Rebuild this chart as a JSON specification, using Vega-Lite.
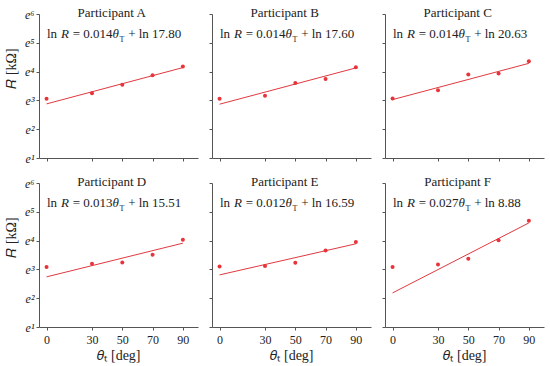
{
  "$schema": "https://vega.github.io/schema/vega-lite/v6.json",
  "padding": {"left": 4, "top": 6, "right": 5, "bottom": 4},
  "background": "white",
  "datasets": {
    "points": [
      {"participant": "A", "theta": 0, "lnR": 3.06}, {"participant": "A", "theta": 30, "lnR": 3.25}, {"participant": "A", "theta": 50, "lnR": 3.545}, {"participant": "A", "theta": 70, "lnR": 3.87}, {"participant": "A", "theta": 90, "lnR": 4.18},
      {"participant": "B", "theta": 0, "lnR": 3.06}, {"participant": "B", "theta": 30, "lnR": 3.16}, {"participant": "B", "theta": 50, "lnR": 3.6}, {"participant": "B", "theta": 70, "lnR": 3.74}, {"participant": "B", "theta": 90, "lnR": 4.15},
      {"participant": "C", "theta": 0, "lnR": 3.07}, {"participant": "C", "theta": 30, "lnR": 3.35}, {"participant": "C", "theta": 50, "lnR": 3.9}, {"participant": "C", "theta": 70, "lnR": 3.93}, {"participant": "C", "theta": 90, "lnR": 4.36},
      {"participant": "D", "theta": 0, "lnR": 3.08}, {"participant": "D", "theta": 30, "lnR": 3.2}, {"participant": "D", "theta": 50, "lnR": 3.24}, {"participant": "D", "theta": 70, "lnR": 3.51}, {"participant": "D", "theta": 90, "lnR": 4.03},
      {"participant": "E", "theta": 0, "lnR": 3.1}, {"participant": "E", "theta": 30, "lnR": 3.12}, {"participant": "E", "theta": 50, "lnR": 3.23}, {"participant": "E", "theta": 70, "lnR": 3.66}, {"participant": "E", "theta": 90, "lnR": 3.95},
      {"participant": "F", "theta": 0, "lnR": 3.08}, {"participant": "F", "theta": 30, "lnR": 3.17}, {"participant": "F", "theta": 50, "lnR": 3.37}, {"participant": "F", "theta": 70, "lnR": 4.01}, {"participant": "F", "theta": 90, "lnR": 4.69}
    ],
    "fit": [
      {"participant": "A", "theta": 0, "lnR": 2.879}, {"participant": "A", "theta": 90, "lnR": 4.139},
      {"participant": "B", "theta": 0, "lnR": 2.868}, {"participant": "B", "theta": 90, "lnR": 4.128},
      {"participant": "C", "theta": 0, "lnR": 3.027}, {"participant": "C", "theta": 90, "lnR": 4.287},
      {"participant": "D", "theta": 0, "lnR": 2.741}, {"participant": "D", "theta": 90, "lnR": 3.911},
      {"participant": "E", "theta": 0, "lnR": 2.809}, {"participant": "E", "theta": 90, "lnR": 3.889},
      {"participant": "F", "theta": 0, "lnR": 2.184}, {"participant": "F", "theta": 90, "lnR": 4.614}
    ],
    "eqs": [
      {"participant": "A", "title": "Participant A", "slope": "= 0.014", "tail": "+ ln 17.80"},
      {"participant": "B", "title": "Participant B", "slope": "= 0.014", "tail": "+ ln 17.60"},
      {"participant": "C", "title": "Participant C", "slope": "= 0.014", "tail": "+ ln 20.63"},
      {"participant": "D", "title": "Participant D", "slope": "= 0.013", "tail": "+ ln 15.51"},
      {"participant": "E", "title": "Participant E", "slope": "= 0.012", "tail": "+ ln 16.59"},
      {"participant": "F", "title": "Participant F", "slope": "= 0.027", "tail": "+ ln 8.88"}
    ]
  },
  "columns": 3,
  "spacing": {"row": 25, "column": 14},
  "bounds": "flush",
  "concat": [
    {
      "width": 159, "height": 144,
      "layer": [
        {"data": {"name": "fit"}, "transform": [{"filter": "datum.participant == 'A'"}], "mark": {"type": "line", "color": "#e0393f", "strokeWidth": 1},
         "encoding": {"x": {"field": "theta", "type": "quantitative", "scale": {"domain": [-5, 100], "nice": false}, "axis": {"values": [0, 30, 50, 70, 90], "labels": false, "title": null}}, "y": {"field": "lnR", "type": "quantitative", "scale": {"domain": [1, 6], "nice": false}, "axis": {"values": [1, 2, 3, 4, 5, 6], "labelExpr": "'e' + ['⁰','¹','²','³','⁴','⁵','⁶'][datum.value]", "labelFontStyle": "italic", "labelOverlap": false, "title": "𝑅 [kΩ]", "titlePadding": 6, "titleY": 54}}}},
        {"data": {"name": "points"}, "transform": [{"filter": "datum.participant == 'A'"}], "mark": {"type": "circle", "color": "#e8333b", "size": 16, "opacity": 1},
         "encoding": {"x": {"field": "theta", "type": "quantitative", "scale": {"domain": [-5, 100], "nice": false}, "axis": {"values": [0, 30, 50, 70, 90], "labels": false, "title": null}}, "y": {"field": "lnR", "type": "quantitative", "scale": {"domain": [1, 6], "nice": false}, "axis": {"values": [1, 2, 3, 4, 5, 6], "labelExpr": "'e' + ['⁰','¹','²','³','⁴','⁵','⁶'][datum.value]", "labelFontStyle": "italic", "labelOverlap": false, "title": "𝑅 [kΩ]", "titlePadding": 6, "titleY": 54}}}},
        {"data": {"name": "eqs"}, "transform": [{"filter": "datum.participant == 'A'"}], "mark": {"type": "text", "align": "center", "baseline": "alphabetic"},
         "encoding": {"x": {"datum": 43, "type": "quantitative", "scale": {"domain": [-5, 100], "nice": false}, "axis": {"values": [0, 30, 50, 70, 90], "labels": false, "title": null}}, "y": {"datum": 5.9, "type": "quantitative", "scale": {"domain": [1, 6], "nice": false}, "axis": {"values": [1, 2, 3, 4, 5, 6], "labelExpr": "'e' + ['⁰','¹','²','³','⁴','⁵','⁶'][datum.value]", "labelFontStyle": "italic", "labelOverlap": false, "title": "𝑅 [kΩ]", "titlePadding": 6, "titleY": 54}}, "text": {"field": "title"}}},
        {"data": {"name": "eqs"}, "transform": [{"filter": "datum.participant == 'A'"}], "mark": {"type": "text", "align": "left", "baseline": "alphabetic", "text": "ln", "dx": -64.7},
         "encoding": {"x": {"datum": 43, "type": "quantitative", "scale": {"domain": [-5, 100], "nice": false}, "axis": {"values": [0, 30, 50, 70, 90], "labels": false, "title": null}}, "y": {"datum": 5.16, "type": "quantitative", "scale": {"domain": [1, 6], "nice": false}, "axis": {"values": [1, 2, 3, 4, 5, 6], "labelExpr": "'e' + ['⁰','¹','²','³','⁴','⁵','⁶'][datum.value]", "labelFontStyle": "italic", "labelOverlap": false, "title": "𝑅 [kΩ]", "titlePadding": 6, "titleY": 54}}}},
        {"data": {"name": "eqs"}, "transform": [{"filter": "datum.participant == 'A'"}], "mark": {"type": "text", "align": "left", "baseline": "alphabetic", "text": "R", "fontStyle": "italic", "dx": -50.75},
         "encoding": {"x": {"datum": 43, "type": "quantitative", "scale": {"domain": [-5, 100], "nice": false}, "axis": {"values": [0, 30, 50, 70, 90], "labels": false, "title": null}}, "y": {"datum": 5.16, "type": "quantitative", "scale": {"domain": [1, 6], "nice": false}, "axis": {"values": [1, 2, 3, 4, 5, 6], "labelExpr": "'e' + ['⁰','¹','²','³','⁴','⁵','⁶'][datum.value]", "labelFontStyle": "italic", "labelOverlap": false, "title": "𝑅 [kΩ]", "titlePadding": 6, "titleY": 54}}}},
        {"data": {"name": "eqs"}, "transform": [{"filter": "datum.participant == 'A'"}], "mark": {"type": "text", "align": "left", "baseline": "alphabetic", "dx": -38.95},
         "encoding": {"x": {"datum": 43, "type": "quantitative", "scale": {"domain": [-5, 100], "nice": false}, "axis": {"values": [0, 30, 50, 70, 90], "labels": false, "title": null}}, "y": {"datum": 5.16, "type": "quantitative", "scale": {"domain": [1, 6], "nice": false}, "axis": {"values": [1, 2, 3, 4, 5, 6], "labelExpr": "'e' + ['⁰','¹','²','³','⁴','⁵','⁶'][datum.value]", "labelFontStyle": "italic", "labelOverlap": false, "title": "𝑅 [kΩ]", "titlePadding": 6, "titleY": 54}}, "text": {"field": "slope"}}},
        {"data": {"name": "eqs"}, "transform": [{"filter": "datum.participant == 'A'"}], "mark": {"type": "text", "align": "left", "baseline": "alphabetic", "text": "θ", "fontStyle": "italic", "dx": 0.9},
         "encoding": {"x": {"datum": 43, "type": "quantitative", "scale": {"domain": [-5, 100], "nice": false}, "axis": {"values": [0, 30, 50, 70, 90], "labels": false, "title": null}}, "y": {"datum": 5.16, "type": "quantitative", "scale": {"domain": [1, 6], "nice": false}, "axis": {"values": [1, 2, 3, 4, 5, 6], "labelExpr": "'e' + ['⁰','¹','²','³','⁴','⁵','⁶'][datum.value]", "labelFontStyle": "italic", "labelOverlap": false, "title": "𝑅 [kΩ]", "titlePadding": 6, "titleY": 54}}}},
        {"data": {"name": "eqs"}, "transform": [{"filter": "datum.participant == 'A'"}], "mark": {"type": "text", "align": "left", "baseline": "alphabetic", "text": "T", "fontSize": 8, "dx": 7.7, "dy": 3.5},
         "encoding": {"x": {"datum": 43, "type": "quantitative", "scale": {"domain": [-5, 100], "nice": false}, "axis": {"values": [0, 30, 50, 70, 90], "labels": false, "title": null}}, "y": {"datum": 5.16, "type": "quantitative", "scale": {"domain": [1, 6], "nice": false}, "axis": {"values": [1, 2, 3, 4, 5, 6], "labelExpr": "'e' + ['⁰','¹','²','³','⁴','⁵','⁶'][datum.value]", "labelFontStyle": "italic", "labelOverlap": false, "title": "𝑅 [kΩ]", "titlePadding": 6, "titleY": 54}}}},
        {"data": {"name": "eqs"}, "transform": [{"filter": "datum.participant == 'A'"}], "mark": {"type": "text", "align": "left", "baseline": "alphabetic", "dx": 16.45},
         "encoding": {"x": {"datum": 43, "type": "quantitative", "scale": {"domain": [-5, 100], "nice": false}, "axis": {"values": [0, 30, 50, 70, 90], "labels": false, "title": null}}, "y": {"datum": 5.16, "type": "quantitative", "scale": {"domain": [1, 6], "nice": false}, "axis": {"values": [1, 2, 3, 4, 5, 6], "labelExpr": "'e' + ['⁰','¹','²','³','⁴','⁵','⁶'][datum.value]", "labelFontStyle": "italic", "labelOverlap": false, "title": "𝑅 [kΩ]", "titlePadding": 6, "titleY": 54}}, "text": {"field": "tail"}}}
      ]
    },
    {
      "width": 159, "height": 144,
      "layer": [
        {"data": {"name": "fit"}, "transform": [{"filter": "datum.participant == 'B'"}], "mark": {"type": "line", "color": "#e0393f", "strokeWidth": 1},
         "encoding": {"x": {"field": "theta", "type": "quantitative", "scale": {"domain": [-5, 100], "nice": false}, "axis": {"values": [0, 30, 50, 70, 90], "labels": false, "title": null}}, "y": {"field": "lnR", "type": "quantitative", "scale": {"domain": [1, 6], "nice": false}, "axis": {"values": [1, 2, 3, 4, 5, 6], "labels": false, "title": null}}}},
        {"data": {"name": "points"}, "transform": [{"filter": "datum.participant == 'B'"}], "mark": {"type": "circle", "color": "#e8333b", "size": 16, "opacity": 1},
         "encoding": {"x": {"field": "theta", "type": "quantitative", "scale": {"domain": [-5, 100], "nice": false}, "axis": {"values": [0, 30, 50, 70, 90], "labels": false, "title": null}}, "y": {"field": "lnR", "type": "quantitative", "scale": {"domain": [1, 6], "nice": false}, "axis": {"values": [1, 2, 3, 4, 5, 6], "labels": false, "title": null}}}},
        {"data": {"name": "eqs"}, "transform": [{"filter": "datum.participant == 'B'"}], "mark": {"type": "text", "align": "center", "baseline": "alphabetic"},
         "encoding": {"x": {"datum": 43, "type": "quantitative", "scale": {"domain": [-5, 100], "nice": false}, "axis": {"values": [0, 30, 50, 70, 90], "labels": false, "title": null}}, "y": {"datum": 5.9, "type": "quantitative", "scale": {"domain": [1, 6], "nice": false}, "axis": {"values": [1, 2, 3, 4, 5, 6], "labels": false, "title": null}}, "text": {"field": "title"}}},
        {"data": {"name": "eqs"}, "transform": [{"filter": "datum.participant == 'B'"}], "mark": {"type": "text", "align": "left", "baseline": "alphabetic", "text": "ln", "dx": -64.7},
         "encoding": {"x": {"datum": 43, "type": "quantitative", "scale": {"domain": [-5, 100], "nice": false}, "axis": {"values": [0, 30, 50, 70, 90], "labels": false, "title": null}}, "y": {"datum": 5.16, "type": "quantitative", "scale": {"domain": [1, 6], "nice": false}, "axis": {"values": [1, 2, 3, 4, 5, 6], "labels": false, "title": null}}}},
        {"data": {"name": "eqs"}, "transform": [{"filter": "datum.participant == 'B'"}], "mark": {"type": "text", "align": "left", "baseline": "alphabetic", "text": "R", "fontStyle": "italic", "dx": -50.75},
         "encoding": {"x": {"datum": 43, "type": "quantitative", "scale": {"domain": [-5, 100], "nice": false}, "axis": {"values": [0, 30, 50, 70, 90], "labels": false, "title": null}}, "y": {"datum": 5.16, "type": "quantitative", "scale": {"domain": [1, 6], "nice": false}, "axis": {"values": [1, 2, 3, 4, 5, 6], "labels": false, "title": null}}}},
        {"data": {"name": "eqs"}, "transform": [{"filter": "datum.participant == 'B'"}], "mark": {"type": "text", "align": "left", "baseline": "alphabetic", "dx": -38.95},
         "encoding": {"x": {"datum": 43, "type": "quantitative", "scale": {"domain": [-5, 100], "nice": false}, "axis": {"values": [0, 30, 50, 70, 90], "labels": false, "title": null}}, "y": {"datum": 5.16, "type": "quantitative", "scale": {"domain": [1, 6], "nice": false}, "axis": {"values": [1, 2, 3, 4, 5, 6], "labels": false, "title": null}}, "text": {"field": "slope"}}},
        {"data": {"name": "eqs"}, "transform": [{"filter": "datum.participant == 'B'"}], "mark": {"type": "text", "align": "left", "baseline": "alphabetic", "text": "θ", "fontStyle": "italic", "dx": 0.9},
         "encoding": {"x": {"datum": 43, "type": "quantitative", "scale": {"domain": [-5, 100], "nice": false}, "axis": {"values": [0, 30, 50, 70, 90], "labels": false, "title": null}}, "y": {"datum": 5.16, "type": "quantitative", "scale": {"domain": [1, 6], "nice": false}, "axis": {"values": [1, 2, 3, 4, 5, 6], "labels": false, "title": null}}}},
        {"data": {"name": "eqs"}, "transform": [{"filter": "datum.participant == 'B'"}], "mark": {"type": "text", "align": "left", "baseline": "alphabetic", "text": "T", "fontSize": 8, "dx": 7.7, "dy": 3.5},
         "encoding": {"x": {"datum": 43, "type": "quantitative", "scale": {"domain": [-5, 100], "nice": false}, "axis": {"values": [0, 30, 50, 70, 90], "labels": false, "title": null}}, "y": {"datum": 5.16, "type": "quantitative", "scale": {"domain": [1, 6], "nice": false}, "axis": {"values": [1, 2, 3, 4, 5, 6], "labels": false, "title": null}}}},
        {"data": {"name": "eqs"}, "transform": [{"filter": "datum.participant == 'B'"}], "mark": {"type": "text", "align": "left", "baseline": "alphabetic", "dx": 16.45},
         "encoding": {"x": {"datum": 43, "type": "quantitative", "scale": {"domain": [-5, 100], "nice": false}, "axis": {"values": [0, 30, 50, 70, 90], "labels": false, "title": null}}, "y": {"datum": 5.16, "type": "quantitative", "scale": {"domain": [1, 6], "nice": false}, "axis": {"values": [1, 2, 3, 4, 5, 6], "labels": false, "title": null}}, "text": {"field": "tail"}}}
      ]
    },
    {
      "width": 159, "height": 144,
      "layer": [
        {"data": {"name": "fit"}, "transform": [{"filter": "datum.participant == 'C'"}], "mark": {"type": "line", "color": "#e0393f", "strokeWidth": 1},
         "encoding": {"x": {"field": "theta", "type": "quantitative", "scale": {"domain": [-5, 100], "nice": false}, "axis": {"values": [0, 30, 50, 70, 90], "labels": false, "title": null}}, "y": {"field": "lnR", "type": "quantitative", "scale": {"domain": [1, 6], "nice": false}, "axis": {"values": [1, 2, 3, 4, 5, 6], "labels": false, "title": null}}}},
        {"data": {"name": "points"}, "transform": [{"filter": "datum.participant == 'C'"}], "mark": {"type": "circle", "color": "#e8333b", "size": 16, "opacity": 1},
         "encoding": {"x": {"field": "theta", "type": "quantitative", "scale": {"domain": [-5, 100], "nice": false}, "axis": {"values": [0, 30, 50, 70, 90], "labels": false, "title": null}}, "y": {"field": "lnR", "type": "quantitative", "scale": {"domain": [1, 6], "nice": false}, "axis": {"values": [1, 2, 3, 4, 5, 6], "labels": false, "title": null}}}},
        {"data": {"name": "eqs"}, "transform": [{"filter": "datum.participant == 'C'"}], "mark": {"type": "text", "align": "center", "baseline": "alphabetic"},
         "encoding": {"x": {"datum": 43, "type": "quantitative", "scale": {"domain": [-5, 100], "nice": false}, "axis": {"values": [0, 30, 50, 70, 90], "labels": false, "title": null}}, "y": {"datum": 5.9, "type": "quantitative", "scale": {"domain": [1, 6], "nice": false}, "axis": {"values": [1, 2, 3, 4, 5, 6], "labels": false, "title": null}}, "text": {"field": "title"}}},
        {"data": {"name": "eqs"}, "transform": [{"filter": "datum.participant == 'C'"}], "mark": {"type": "text", "align": "left", "baseline": "alphabetic", "text": "ln", "dx": -64.7},
         "encoding": {"x": {"datum": 43, "type": "quantitative", "scale": {"domain": [-5, 100], "nice": false}, "axis": {"values": [0, 30, 50, 70, 90], "labels": false, "title": null}}, "y": {"datum": 5.16, "type": "quantitative", "scale": {"domain": [1, 6], "nice": false}, "axis": {"values": [1, 2, 3, 4, 5, 6], "labels": false, "title": null}}}},
        {"data": {"name": "eqs"}, "transform": [{"filter": "datum.participant == 'C'"}], "mark": {"type": "text", "align": "left", "baseline": "alphabetic", "text": "R", "fontStyle": "italic", "dx": -50.75},
         "encoding": {"x": {"datum": 43, "type": "quantitative", "scale": {"domain": [-5, 100], "nice": false}, "axis": {"values": [0, 30, 50, 70, 90], "labels": false, "title": null}}, "y": {"datum": 5.16, "type": "quantitative", "scale": {"domain": [1, 6], "nice": false}, "axis": {"values": [1, 2, 3, 4, 5, 6], "labels": false, "title": null}}}},
        {"data": {"name": "eqs"}, "transform": [{"filter": "datum.participant == 'C'"}], "mark": {"type": "text", "align": "left", "baseline": "alphabetic", "dx": -38.95},
         "encoding": {"x": {"datum": 43, "type": "quantitative", "scale": {"domain": [-5, 100], "nice": false}, "axis": {"values": [0, 30, 50, 70, 90], "labels": false, "title": null}}, "y": {"datum": 5.16, "type": "quantitative", "scale": {"domain": [1, 6], "nice": false}, "axis": {"values": [1, 2, 3, 4, 5, 6], "labels": false, "title": null}}, "text": {"field": "slope"}}},
        {"data": {"name": "eqs"}, "transform": [{"filter": "datum.participant == 'C'"}], "mark": {"type": "text", "align": "left", "baseline": "alphabetic", "text": "θ", "fontStyle": "italic", "dx": 0.9},
         "encoding": {"x": {"datum": 43, "type": "quantitative", "scale": {"domain": [-5, 100], "nice": false}, "axis": {"values": [0, 30, 50, 70, 90], "labels": false, "title": null}}, "y": {"datum": 5.16, "type": "quantitative", "scale": {"domain": [1, 6], "nice": false}, "axis": {"values": [1, 2, 3, 4, 5, 6], "labels": false, "title": null}}}},
        {"data": {"name": "eqs"}, "transform": [{"filter": "datum.participant == 'C'"}], "mark": {"type": "text", "align": "left", "baseline": "alphabetic", "text": "T", "fontSize": 8, "dx": 7.7, "dy": 3.5},
         "encoding": {"x": {"datum": 43, "type": "quantitative", "scale": {"domain": [-5, 100], "nice": false}, "axis": {"values": [0, 30, 50, 70, 90], "labels": false, "title": null}}, "y": {"datum": 5.16, "type": "quantitative", "scale": {"domain": [1, 6], "nice": false}, "axis": {"values": [1, 2, 3, 4, 5, 6], "labels": false, "title": null}}}},
        {"data": {"name": "eqs"}, "transform": [{"filter": "datum.participant == 'C'"}], "mark": {"type": "text", "align": "left", "baseline": "alphabetic", "dx": 16.45},
         "encoding": {"x": {"datum": 43, "type": "quantitative", "scale": {"domain": [-5, 100], "nice": false}, "axis": {"values": [0, 30, 50, 70, 90], "labels": false, "title": null}}, "y": {"datum": 5.16, "type": "quantitative", "scale": {"domain": [1, 6], "nice": false}, "axis": {"values": [1, 2, 3, 4, 5, 6], "labels": false, "title": null}}, "text": {"field": "tail"}}}
      ]
    },
    {
      "width": 159, "height": 144,
      "layer": [
        {"data": {"name": "fit"}, "transform": [{"filter": "datum.participant == 'D'"}], "mark": {"type": "line", "color": "#e0393f", "strokeWidth": 1},
         "encoding": {"x": {"field": "theta", "type": "quantitative", "scale": {"domain": [-5, 100], "nice": false}, "axis": {"values": [0, 30, 50, 70, 90], "labelAngle": 0, "labelOverlap": false, "title": "𝜃ₜ [deg]", "labelPadding": 4, "titlePadding": 3}}, "y": {"field": "lnR", "type": "quantitative", "scale": {"domain": [1, 6], "nice": false}, "axis": {"values": [1, 2, 3, 4, 5, 6], "labelExpr": "'e' + ['⁰','¹','²','³','⁴','⁵','⁶'][datum.value]", "labelFontStyle": "italic", "labelOverlap": false, "title": "𝑅 [kΩ]", "titlePadding": 6, "titleY": 54}}}},
        {"data": {"name": "points"}, "transform": [{"filter": "datum.participant == 'D'"}], "mark": {"type": "circle", "color": "#e8333b", "size": 16, "opacity": 1},
         "encoding": {"x": {"field": "theta", "type": "quantitative", "scale": {"domain": [-5, 100], "nice": false}, "axis": {"values": [0, 30, 50, 70, 90], "labelAngle": 0, "labelOverlap": false, "title": "𝜃ₜ [deg]", "labelPadding": 4, "titlePadding": 3}}, "y": {"field": "lnR", "type": "quantitative", "scale": {"domain": [1, 6], "nice": false}, "axis": {"values": [1, 2, 3, 4, 5, 6], "labelExpr": "'e' + ['⁰','¹','²','³','⁴','⁵','⁶'][datum.value]", "labelFontStyle": "italic", "labelOverlap": false, "title": "𝑅 [kΩ]", "titlePadding": 6, "titleY": 54}}}},
        {"data": {"name": "eqs"}, "transform": [{"filter": "datum.participant == 'D'"}], "mark": {"type": "text", "align": "center", "baseline": "alphabetic"},
         "encoding": {"x": {"datum": 43, "type": "quantitative", "scale": {"domain": [-5, 100], "nice": false}, "axis": {"values": [0, 30, 50, 70, 90], "labelAngle": 0, "labelOverlap": false, "title": "𝜃ₜ [deg]", "labelPadding": 4, "titlePadding": 3}}, "y": {"datum": 5.9, "type": "quantitative", "scale": {"domain": [1, 6], "nice": false}, "axis": {"values": [1, 2, 3, 4, 5, 6], "labelExpr": "'e' + ['⁰','¹','²','³','⁴','⁵','⁶'][datum.value]", "labelFontStyle": "italic", "labelOverlap": false, "title": "𝑅 [kΩ]", "titlePadding": 6, "titleY": 54}}, "text": {"field": "title"}}},
        {"data": {"name": "eqs"}, "transform": [{"filter": "datum.participant == 'D'"}], "mark": {"type": "text", "align": "left", "baseline": "alphabetic", "text": "ln", "dx": -64.7},
         "encoding": {"x": {"datum": 43, "type": "quantitative", "scale": {"domain": [-5, 100], "nice": false}, "axis": {"values": [0, 30, 50, 70, 90], "labelAngle": 0, "labelOverlap": false, "title": "𝜃ₜ [deg]", "labelPadding": 4, "titlePadding": 3}}, "y": {"datum": 5.16, "type": "quantitative", "scale": {"domain": [1, 6], "nice": false}, "axis": {"values": [1, 2, 3, 4, 5, 6], "labelExpr": "'e' + ['⁰','¹','²','³','⁴','⁵','⁶'][datum.value]", "labelFontStyle": "italic", "labelOverlap": false, "title": "𝑅 [kΩ]", "titlePadding": 6, "titleY": 54}}}},
        {"data": {"name": "eqs"}, "transform": [{"filter": "datum.participant == 'D'"}], "mark": {"type": "text", "align": "left", "baseline": "alphabetic", "text": "R", "fontStyle": "italic", "dx": -50.75},
         "encoding": {"x": {"datum": 43, "type": "quantitative", "scale": {"domain": [-5, 100], "nice": false}, "axis": {"values": [0, 30, 50, 70, 90], "labelAngle": 0, "labelOverlap": false, "title": "𝜃ₜ [deg]", "labelPadding": 4, "titlePadding": 3}}, "y": {"datum": 5.16, "type": "quantitative", "scale": {"domain": [1, 6], "nice": false}, "axis": {"values": [1, 2, 3, 4, 5, 6], "labelExpr": "'e' + ['⁰','¹','²','³','⁴','⁵','⁶'][datum.value]", "labelFontStyle": "italic", "labelOverlap": false, "title": "𝑅 [kΩ]", "titlePadding": 6, "titleY": 54}}}},
        {"data": {"name": "eqs"}, "transform": [{"filter": "datum.participant == 'D'"}], "mark": {"type": "text", "align": "left", "baseline": "alphabetic", "dx": -38.95},
         "encoding": {"x": {"datum": 43, "type": "quantitative", "scale": {"domain": [-5, 100], "nice": false}, "axis": {"values": [0, 30, 50, 70, 90], "labelAngle": 0, "labelOverlap": false, "title": "𝜃ₜ [deg]", "labelPadding": 4, "titlePadding": 3}}, "y": {"datum": 5.16, "type": "quantitative", "scale": {"domain": [1, 6], "nice": false}, "axis": {"values": [1, 2, 3, 4, 5, 6], "labelExpr": "'e' + ['⁰','¹','²','³','⁴','⁵','⁶'][datum.value]", "labelFontStyle": "italic", "labelOverlap": false, "title": "𝑅 [kΩ]", "titlePadding": 6, "titleY": 54}}, "text": {"field": "slope"}}},
        {"data": {"name": "eqs"}, "transform": [{"filter": "datum.participant == 'D'"}], "mark": {"type": "text", "align": "left", "baseline": "alphabetic", "text": "θ", "fontStyle": "italic", "dx": 0.9},
         "encoding": {"x": {"datum": 43, "type": "quantitative", "scale": {"domain": [-5, 100], "nice": false}, "axis": {"values": [0, 30, 50, 70, 90], "labelAngle": 0, "labelOverlap": false, "title": "𝜃ₜ [deg]", "labelPadding": 4, "titlePadding": 3}}, "y": {"datum": 5.16, "type": "quantitative", "scale": {"domain": [1, 6], "nice": false}, "axis": {"values": [1, 2, 3, 4, 5, 6], "labelExpr": "'e' + ['⁰','¹','²','³','⁴','⁵','⁶'][datum.value]", "labelFontStyle": "italic", "labelOverlap": false, "title": "𝑅 [kΩ]", "titlePadding": 6, "titleY": 54}}}},
        {"data": {"name": "eqs"}, "transform": [{"filter": "datum.participant == 'D'"}], "mark": {"type": "text", "align": "left", "baseline": "alphabetic", "text": "T", "fontSize": 8, "dx": 7.7, "dy": 3.5},
         "encoding": {"x": {"datum": 43, "type": "quantitative", "scale": {"domain": [-5, 100], "nice": false}, "axis": {"values": [0, 30, 50, 70, 90], "labelAngle": 0, "labelOverlap": false, "title": "𝜃ₜ [deg]", "labelPadding": 4, "titlePadding": 3}}, "y": {"datum": 5.16, "type": "quantitative", "scale": {"domain": [1, 6], "nice": false}, "axis": {"values": [1, 2, 3, 4, 5, 6], "labelExpr": "'e' + ['⁰','¹','²','³','⁴','⁵','⁶'][datum.value]", "labelFontStyle": "italic", "labelOverlap": false, "title": "𝑅 [kΩ]", "titlePadding": 6, "titleY": 54}}}},
        {"data": {"name": "eqs"}, "transform": [{"filter": "datum.participant == 'D'"}], "mark": {"type": "text", "align": "left", "baseline": "alphabetic", "dx": 16.45},
         "encoding": {"x": {"datum": 43, "type": "quantitative", "scale": {"domain": [-5, 100], "nice": false}, "axis": {"values": [0, 30, 50, 70, 90], "labelAngle": 0, "labelOverlap": false, "title": "𝜃ₜ [deg]", "labelPadding": 4, "titlePadding": 3}}, "y": {"datum": 5.16, "type": "quantitative", "scale": {"domain": [1, 6], "nice": false}, "axis": {"values": [1, 2, 3, 4, 5, 6], "labelExpr": "'e' + ['⁰','¹','²','³','⁴','⁵','⁶'][datum.value]", "labelFontStyle": "italic", "labelOverlap": false, "title": "𝑅 [kΩ]", "titlePadding": 6, "titleY": 54}}, "text": {"field": "tail"}}}
      ]
    },
    {
      "width": 159, "height": 144,
      "layer": [
        {"data": {"name": "fit"}, "transform": [{"filter": "datum.participant == 'E'"}], "mark": {"type": "line", "color": "#e0393f", "strokeWidth": 1},
         "encoding": {"x": {"field": "theta", "type": "quantitative", "scale": {"domain": [-5, 100], "nice": false}, "axis": {"values": [0, 30, 50, 70, 90], "labelAngle": 0, "labelOverlap": false, "title": "𝜃ₜ [deg]", "labelPadding": 4, "titlePadding": 3}}, "y": {"field": "lnR", "type": "quantitative", "scale": {"domain": [1, 6], "nice": false}, "axis": {"values": [1, 2, 3, 4, 5, 6], "labels": false, "title": null}}}},
        {"data": {"name": "points"}, "transform": [{"filter": "datum.participant == 'E'"}], "mark": {"type": "circle", "color": "#e8333b", "size": 16, "opacity": 1},
         "encoding": {"x": {"field": "theta", "type": "quantitative", "scale": {"domain": [-5, 100], "nice": false}, "axis": {"values": [0, 30, 50, 70, 90], "labelAngle": 0, "labelOverlap": false, "title": "𝜃ₜ [deg]", "labelPadding": 4, "titlePadding": 3}}, "y": {"field": "lnR", "type": "quantitative", "scale": {"domain": [1, 6], "nice": false}, "axis": {"values": [1, 2, 3, 4, 5, 6], "labels": false, "title": null}}}},
        {"data": {"name": "eqs"}, "transform": [{"filter": "datum.participant == 'E'"}], "mark": {"type": "text", "align": "center", "baseline": "alphabetic"},
         "encoding": {"x": {"datum": 43, "type": "quantitative", "scale": {"domain": [-5, 100], "nice": false}, "axis": {"values": [0, 30, 50, 70, 90], "labelAngle": 0, "labelOverlap": false, "title": "𝜃ₜ [deg]", "labelPadding": 4, "titlePadding": 3}}, "y": {"datum": 5.9, "type": "quantitative", "scale": {"domain": [1, 6], "nice": false}, "axis": {"values": [1, 2, 3, 4, 5, 6], "labels": false, "title": null}}, "text": {"field": "title"}}},
        {"data": {"name": "eqs"}, "transform": [{"filter": "datum.participant == 'E'"}], "mark": {"type": "text", "align": "left", "baseline": "alphabetic", "text": "ln", "dx": -64.7},
         "encoding": {"x": {"datum": 43, "type": "quantitative", "scale": {"domain": [-5, 100], "nice": false}, "axis": {"values": [0, 30, 50, 70, 90], "labelAngle": 0, "labelOverlap": false, "title": "𝜃ₜ [deg]", "labelPadding": 4, "titlePadding": 3}}, "y": {"datum": 5.16, "type": "quantitative", "scale": {"domain": [1, 6], "nice": false}, "axis": {"values": [1, 2, 3, 4, 5, 6], "labels": false, "title": null}}}},
        {"data": {"name": "eqs"}, "transform": [{"filter": "datum.participant == 'E'"}], "mark": {"type": "text", "align": "left", "baseline": "alphabetic", "text": "R", "fontStyle": "italic", "dx": -50.75},
         "encoding": {"x": {"datum": 43, "type": "quantitative", "scale": {"domain": [-5, 100], "nice": false}, "axis": {"values": [0, 30, 50, 70, 90], "labelAngle": 0, "labelOverlap": false, "title": "𝜃ₜ [deg]", "labelPadding": 4, "titlePadding": 3}}, "y": {"datum": 5.16, "type": "quantitative", "scale": {"domain": [1, 6], "nice": false}, "axis": {"values": [1, 2, 3, 4, 5, 6], "labels": false, "title": null}}}},
        {"data": {"name": "eqs"}, "transform": [{"filter": "datum.participant == 'E'"}], "mark": {"type": "text", "align": "left", "baseline": "alphabetic", "dx": -38.95},
         "encoding": {"x": {"datum": 43, "type": "quantitative", "scale": {"domain": [-5, 100], "nice": false}, "axis": {"values": [0, 30, 50, 70, 90], "labelAngle": 0, "labelOverlap": false, "title": "𝜃ₜ [deg]", "labelPadding": 4, "titlePadding": 3}}, "y": {"datum": 5.16, "type": "quantitative", "scale": {"domain": [1, 6], "nice": false}, "axis": {"values": [1, 2, 3, 4, 5, 6], "labels": false, "title": null}}, "text": {"field": "slope"}}},
        {"data": {"name": "eqs"}, "transform": [{"filter": "datum.participant == 'E'"}], "mark": {"type": "text", "align": "left", "baseline": "alphabetic", "text": "θ", "fontStyle": "italic", "dx": 0.9},
         "encoding": {"x": {"datum": 43, "type": "quantitative", "scale": {"domain": [-5, 100], "nice": false}, "axis": {"values": [0, 30, 50, 70, 90], "labelAngle": 0, "labelOverlap": false, "title": "𝜃ₜ [deg]", "labelPadding": 4, "titlePadding": 3}}, "y": {"datum": 5.16, "type": "quantitative", "scale": {"domain": [1, 6], "nice": false}, "axis": {"values": [1, 2, 3, 4, 5, 6], "labels": false, "title": null}}}},
        {"data": {"name": "eqs"}, "transform": [{"filter": "datum.participant == 'E'"}], "mark": {"type": "text", "align": "left", "baseline": "alphabetic", "text": "T", "fontSize": 8, "dx": 7.7, "dy": 3.5},
         "encoding": {"x": {"datum": 43, "type": "quantitative", "scale": {"domain": [-5, 100], "nice": false}, "axis": {"values": [0, 30, 50, 70, 90], "labelAngle": 0, "labelOverlap": false, "title": "𝜃ₜ [deg]", "labelPadding": 4, "titlePadding": 3}}, "y": {"datum": 5.16, "type": "quantitative", "scale": {"domain": [1, 6], "nice": false}, "axis": {"values": [1, 2, 3, 4, 5, 6], "labels": false, "title": null}}}},
        {"data": {"name": "eqs"}, "transform": [{"filter": "datum.participant == 'E'"}], "mark": {"type": "text", "align": "left", "baseline": "alphabetic", "dx": 16.45},
         "encoding": {"x": {"datum": 43, "type": "quantitative", "scale": {"domain": [-5, 100], "nice": false}, "axis": {"values": [0, 30, 50, 70, 90], "labelAngle": 0, "labelOverlap": false, "title": "𝜃ₜ [deg]", "labelPadding": 4, "titlePadding": 3}}, "y": {"datum": 5.16, "type": "quantitative", "scale": {"domain": [1, 6], "nice": false}, "axis": {"values": [1, 2, 3, 4, 5, 6], "labels": false, "title": null}}, "text": {"field": "tail"}}}
      ]
    },
    {
      "width": 159, "height": 144,
      "layer": [
        {"data": {"name": "fit"}, "transform": [{"filter": "datum.participant == 'F'"}], "mark": {"type": "line", "color": "#e0393f", "strokeWidth": 1},
         "encoding": {"x": {"field": "theta", "type": "quantitative", "scale": {"domain": [-5, 100], "nice": false}, "axis": {"values": [0, 30, 50, 70, 90], "labelAngle": 0, "labelOverlap": false, "title": "𝜃ₜ [deg]", "labelPadding": 4, "titlePadding": 3}}, "y": {"field": "lnR", "type": "quantitative", "scale": {"domain": [1, 6], "nice": false}, "axis": {"values": [1, 2, 3, 4, 5, 6], "labels": false, "title": null}}}},
        {"data": {"name": "points"}, "transform": [{"filter": "datum.participant == 'F'"}], "mark": {"type": "circle", "color": "#e8333b", "size": 16, "opacity": 1},
         "encoding": {"x": {"field": "theta", "type": "quantitative", "scale": {"domain": [-5, 100], "nice": false}, "axis": {"values": [0, 30, 50, 70, 90], "labelAngle": 0, "labelOverlap": false, "title": "𝜃ₜ [deg]", "labelPadding": 4, "titlePadding": 3}}, "y": {"field": "lnR", "type": "quantitative", "scale": {"domain": [1, 6], "nice": false}, "axis": {"values": [1, 2, 3, 4, 5, 6], "labels": false, "title": null}}}},
        {"data": {"name": "eqs"}, "transform": [{"filter": "datum.participant == 'F'"}], "mark": {"type": "text", "align": "center", "baseline": "alphabetic"},
         "encoding": {"x": {"datum": 43, "type": "quantitative", "scale": {"domain": [-5, 100], "nice": false}, "axis": {"values": [0, 30, 50, 70, 90], "labelAngle": 0, "labelOverlap": false, "title": "𝜃ₜ [deg]", "labelPadding": 4, "titlePadding": 3}}, "y": {"datum": 5.9, "type": "quantitative", "scale": {"domain": [1, 6], "nice": false}, "axis": {"values": [1, 2, 3, 4, 5, 6], "labels": false, "title": null}}, "text": {"field": "title"}}},
        {"data": {"name": "eqs"}, "transform": [{"filter": "datum.participant == 'F'"}], "mark": {"type": "text", "align": "left", "baseline": "alphabetic", "text": "ln", "dx": -64.7},
         "encoding": {"x": {"datum": 43, "type": "quantitative", "scale": {"domain": [-5, 100], "nice": false}, "axis": {"values": [0, 30, 50, 70, 90], "labelAngle": 0, "labelOverlap": false, "title": "𝜃ₜ [deg]", "labelPadding": 4, "titlePadding": 3}}, "y": {"datum": 5.16, "type": "quantitative", "scale": {"domain": [1, 6], "nice": false}, "axis": {"values": [1, 2, 3, 4, 5, 6], "labels": false, "title": null}}}},
        {"data": {"name": "eqs"}, "transform": [{"filter": "datum.participant == 'F'"}], "mark": {"type": "text", "align": "left", "baseline": "alphabetic", "text": "R", "fontStyle": "italic", "dx": -50.75},
         "encoding": {"x": {"datum": 43, "type": "quantitative", "scale": {"domain": [-5, 100], "nice": false}, "axis": {"values": [0, 30, 50, 70, 90], "labelAngle": 0, "labelOverlap": false, "title": "𝜃ₜ [deg]", "labelPadding": 4, "titlePadding": 3}}, "y": {"datum": 5.16, "type": "quantitative", "scale": {"domain": [1, 6], "nice": false}, "axis": {"values": [1, 2, 3, 4, 5, 6], "labels": false, "title": null}}}},
        {"data": {"name": "eqs"}, "transform": [{"filter": "datum.participant == 'F'"}], "mark": {"type": "text", "align": "left", "baseline": "alphabetic", "dx": -38.95},
         "encoding": {"x": {"datum": 43, "type": "quantitative", "scale": {"domain": [-5, 100], "nice": false}, "axis": {"values": [0, 30, 50, 70, 90], "labelAngle": 0, "labelOverlap": false, "title": "𝜃ₜ [deg]", "labelPadding": 4, "titlePadding": 3}}, "y": {"datum": 5.16, "type": "quantitative", "scale": {"domain": [1, 6], "nice": false}, "axis": {"values": [1, 2, 3, 4, 5, 6], "labels": false, "title": null}}, "text": {"field": "slope"}}},
        {"data": {"name": "eqs"}, "transform": [{"filter": "datum.participant == 'F'"}], "mark": {"type": "text", "align": "left", "baseline": "alphabetic", "text": "θ", "fontStyle": "italic", "dx": 0.9},
         "encoding": {"x": {"datum": 43, "type": "quantitative", "scale": {"domain": [-5, 100], "nice": false}, "axis": {"values": [0, 30, 50, 70, 90], "labelAngle": 0, "labelOverlap": false, "title": "𝜃ₜ [deg]", "labelPadding": 4, "titlePadding": 3}}, "y": {"datum": 5.16, "type": "quantitative", "scale": {"domain": [1, 6], "nice": false}, "axis": {"values": [1, 2, 3, 4, 5, 6], "labels": false, "title": null}}}},
        {"data": {"name": "eqs"}, "transform": [{"filter": "datum.participant == 'F'"}], "mark": {"type": "text", "align": "left", "baseline": "alphabetic", "text": "T", "fontSize": 8, "dx": 7.7, "dy": 3.5},
         "encoding": {"x": {"datum": 43, "type": "quantitative", "scale": {"domain": [-5, 100], "nice": false}, "axis": {"values": [0, 30, 50, 70, 90], "labelAngle": 0, "labelOverlap": false, "title": "𝜃ₜ [deg]", "labelPadding": 4, "titlePadding": 3}}, "y": {"datum": 5.16, "type": "quantitative", "scale": {"domain": [1, 6], "nice": false}, "axis": {"values": [1, 2, 3, 4, 5, 6], "labels": false, "title": null}}}},
        {"data": {"name": "eqs"}, "transform": [{"filter": "datum.participant == 'F'"}], "mark": {"type": "text", "align": "left", "baseline": "alphabetic", "dx": 16.45},
         "encoding": {"x": {"datum": 43, "type": "quantitative", "scale": {"domain": [-5, 100], "nice": false}, "axis": {"values": [0, 30, 50, 70, 90], "labelAngle": 0, "labelOverlap": false, "title": "𝜃ₜ [deg]", "labelPadding": 4, "titlePadding": 3}}, "y": {"datum": 5.16, "type": "quantitative", "scale": {"domain": [1, 6], "nice": false}, "axis": {"values": [1, 2, 3, 4, 5, 6], "labels": false, "title": null}}, "text": {"field": "tail"}}}
      ]
    }
  ],
  "config": {
    "font": "Liberation Serif",
    "view": {"stroke": null},
    "axis": {"grid": false, "domainColor": "#555555", "tickColor": "#555555", "tickSize": 3, "labelFont": "Liberation Serif", "labelFontSize": 12, "labelColor": "#222222", "titleFont": "Liberation Serif", "titleFontSize": 14, "titleFontWeight": "normal", "titleColor": "#222222", "labelPadding": 2, "labelOverlap": false, "labelFlush": false},
    "text": {"font": "Liberation Serif", "fontSize": 13, "color": "#222222"}
  }
}
